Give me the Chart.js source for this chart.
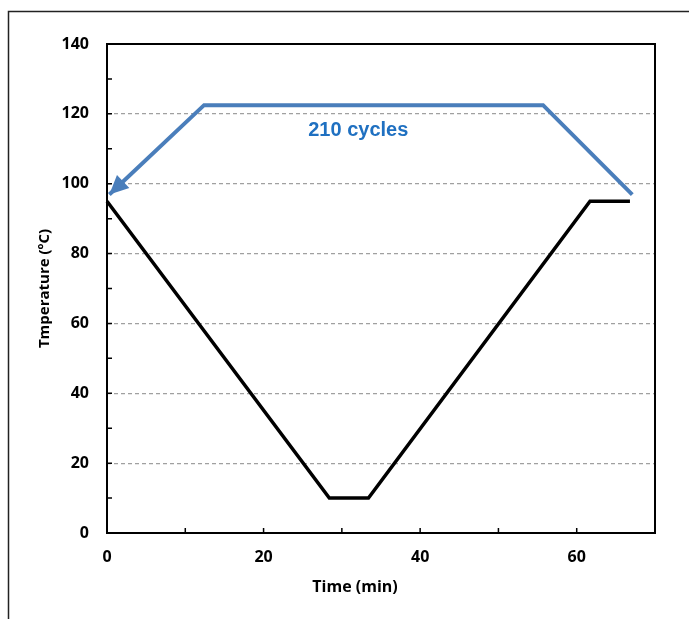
<!doctype html>
<html>
  <head>
    <title>Temperature cycle</title>
    <script src="https://cdn.jsdelivr.net/npm/chart.js@4.4.1/dist/chart.umd.min.js"></script>
    <style>
    body { margin: 0; background: #fff; }
    canvas { display: block; }
    </style>
  </head>

  <body>
    <canvas id="canvas" width="689" height="619"></canvas>

    <script>
      // black profile: one cycle
      const timeCycle = [0, 28.4, 33.4, 61.7, 66.8];
      const tempCycle = [95, 10, 10, 95, 95];
      // blue return arrow
      const timeLoop = [67.1, 55.7, 12.4, 0.3];
      const tempLoop = [96.9, 122.5, 122.5, 96.9];
      // arrow label
      const loopLabel = '210 cycles';
      const loopLabelAt = [32.1, 113.7];

      const xTicks = [0, 20, 40, 60];
      const yTicks = [0, 20, 40, 60, 80, 100, 120, 140];

      const FONT = "'Open Sans', sans-serif";

      function pts(xs, ys) {
        return xs.map((x, i) => ({ x: x, y: ys[i] }));
      }

      // frame, box, inward ticks, arrow head, labels
      const decorations = {
        id: 'decorations',
        beforeDraw(chart) {
          const ctx = chart.ctx;
          ctx.save();
          ctx.fillStyle = '#fff';
          ctx.fillRect(0, 0, chart.width, chart.height);
          ctx.strokeStyle = '#222';
          ctx.lineWidth = 1.5;
          ctx.strokeRect(8.5, 11.5, 800, 800);
          ctx.restore();
        },
        afterDraw(chart) {
          const ctx = chart.ctx;
          const a = chart.chartArea;
          const xs = chart.scales.x, ys = chart.scales.y;
          ctx.save();
          // minor/major ticks pointing inward
          ctx.strokeStyle = '#000';
          ctx.lineWidth = 1.5;
          ctx.beginPath();
          for (let v = 10; v < xs.max; v += 10) {
            const px = xs.getPixelForValue(v);
            ctx.moveTo(px, a.bottom);
            ctx.lineTo(px, a.bottom - 5);
          }
          for (let v = 10; v < ys.max; v += 10) {
            const py = ys.getPixelForValue(v);
            ctx.moveTo(a.left, py);
            ctx.lineTo(a.left + 5, py);
          }
          ctx.stroke();
          // plot box
          ctx.lineWidth = 2;
          ctx.strokeRect(a.left, a.top, a.right - a.left, a.bottom - a.top);

          // arrow head on the blue line
          const pl = chart.getDatasetMeta(1).data;
          const p1 = pl[pl.length - 2], p2 = pl[pl.length - 1];
          const ang = Math.atan2(p2.y - p1.y, p2.x - p1.x);
          const len = 19, half = 9;
          ctx.fillStyle = '#4a7ebb';
          ctx.beginPath();
          ctx.moveTo(p2.x, p2.y);
          ctx.lineTo(p2.x - len * Math.cos(ang) + half * Math.sin(ang), p2.y - len * Math.sin(ang) - half * Math.cos(ang));
          ctx.lineTo(p2.x - len * Math.cos(ang) - half * Math.sin(ang), p2.y - len * Math.sin(ang) + half * Math.cos(ang));
          ctx.closePath();
          ctx.fill();

          // "210 cycles"
          ctx.fillStyle = '#1f70c1';
          ctx.font = "bold 20px 'Liberation Sans', Arial, sans-serif";
          ctx.textAlign = 'center';
          ctx.textBaseline = 'alphabetic';
          ctx.fillText(loopLabel, xs.getPixelForValue(loopLabelAt[0]), ys.getPixelForValue(loopLabelAt[1]));

          // x axis title (sits left of centre, as in the original)
          ctx.fillStyle = '#000';
          ctx.font = 'bold 16px ' + FONT;
          ctx.textBaseline = 'middle';
          ctx.fillText('Time (min)', 355, 587);
          ctx.restore();
        }
      };

      const config = {
        type: 'scatter',
        data: {
          datasets: [{
            data: pts(timeCycle, tempCycle),
            showLine: true,
            borderColor: '#000',
            borderWidth: 3.5,
            pointRadius: 0,
            tension: 0,
            clip: 10
          }, {
            data: pts(timeLoop, tempLoop),
            showLine: true,
            borderColor: '#4a7ebb',
            borderWidth: 4,
            pointRadius: 0,
            tension: 0,
            clip: 10
          }]
        },
        options: {
          responsive: false,
          animation: false,
          layout: { padding: { left: 36, top: 44, right: 34, bottom: 0 } },
          plugins: { legend: { display: false }, tooltip: { enabled: false } },
          scales: {
            x: {
              type: 'linear',
              min: 0,
              max: 70,
              afterFit(s) { s.height = 86; },
              grid: { display: false, drawTicks: false },
              border: { display: false },
              ticks: {
                stepSize: 10,
                padding: 15,
                color: '#000',
                font: { family: FONT, size: 16, weight: 'bold' },
                maxRotation: 0,
                callback: v => xTicks.includes(v) ? v : ''
              }
            },
            y: {
              min: 0,
              max: 140,
              afterFit(s) { s.width = 71; },
              grid: {
                drawTicks: false,
                lineWidth: 1.2,
                color: c => (c.tick && c.tick.value % 20 === 0 && c.tick.value > 0 && c.tick.value < 140) ? '#a0a0a0' : 'rgba(0,0,0,0)'
              },
              border: { display: false, dash: [4, 3] },
              ticks: {
                stepSize: 10,
                padding: 18,
                color: '#000',
                font: { family: FONT, size: 16, weight: 'bold' },
                callback: v => yTicks.includes(v) ? v : ''
              },
              title: {
                display: true,
                text: 'Tmperature (ºC)',
                color: '#000',
                padding: { top: 0, bottom: 0 },
                font: { family: FONT, size: 15, weight: 'bold' }
              }
            }
          }
        },
        plugins: [decorations]
      };

      window.onload = function() {
        let ctx = document.getElementById('canvas').getContext('2d');
        window.myLine = new Chart(ctx, config);
      };
    </script>
  </body>
</html>
